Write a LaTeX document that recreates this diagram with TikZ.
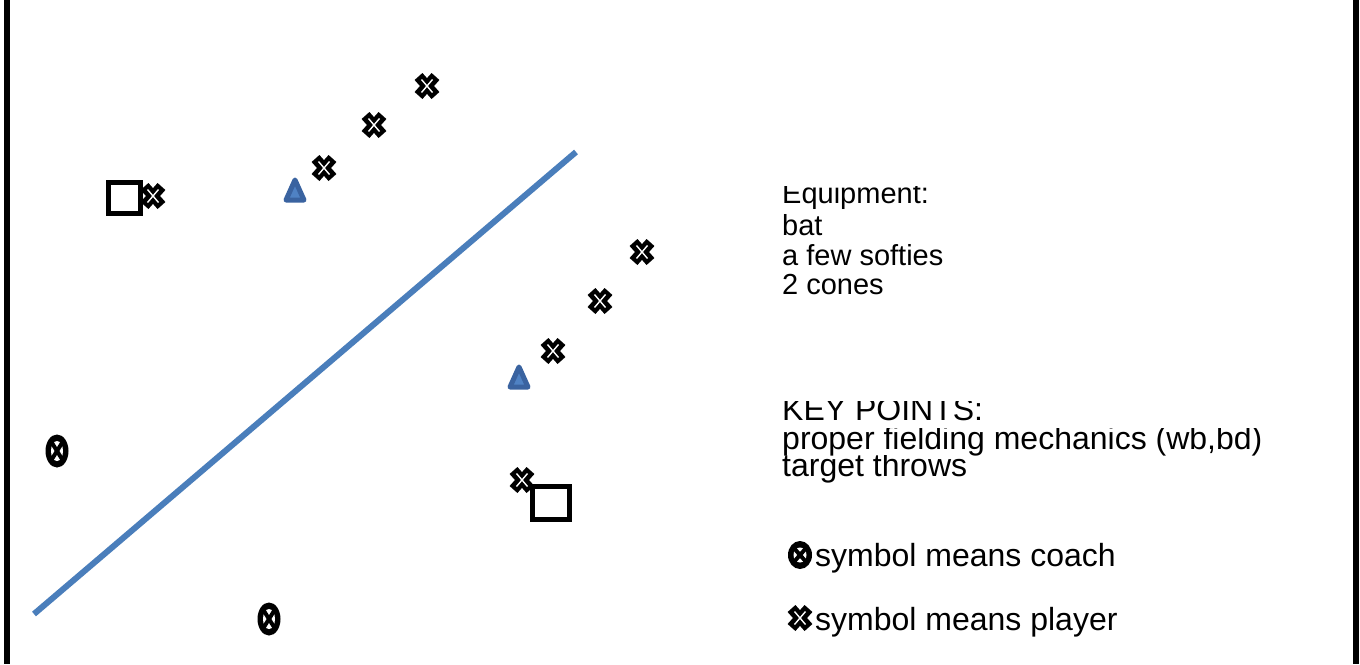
\documentclass[tikz,border=0pt]{standalone}
\usepackage{fontspec}
\setmainfont{Liberation Sans}
\definecolor{fieldblue}{HTML}{4A7EBB}
\definecolor{conedark}{HTML}{3A63A0}
\definecolor{conelight}{HTML}{4F82C4}
\tikzset{
  fieldline/.style={line width=6pt, draw=fieldblue},
  sideline/.style={line width=6pt, draw=black},
  basebox/.style={line width=5pt, draw=black, fill=white},
  eqtxt/.style={inner sep=0pt, anchor=base west, font=\fontsize{29}{30}\selectfont},
  keytxt/.style={inner sep=0pt, anchor=base west, font=\fontsize{32}{30}\selectfont},
  legtxt/.style={inner sep=0pt, anchor=base west, font=\fontsize{32}{34}\selectfont},
}
\newcommand\playerat[1]{%
  \begin{scope}[shift={#1}]
    \draw[line width=10.5pt, black] (-8.5,-9.5) -- (8.5,9.5) (-8.5,9.5) -- (8.5,-9.5);
    \draw[line width=1.4pt, white] (-5.5,-6.5) -- (5.5,6.5) (-5.5,6.5) -- (5.5,-6.5);
  \end{scope}}
\newcommand\coachat[3]{%
  \begin{scope}[shift={#1}]
    \fill[black] (0,0) ellipse [x radius=#2, y radius=#3];
    \fill[white] (0,0) ellipse [x radius=#2-5.5, y radius=#3-6.5];
    \draw[black, line width=4pt] (-#2+5,-#3+6) -- (#2-5,#3-6) (-#2+5,#3-6) -- (#2-5,-#3+6);
  \end{scope}}
\newcommand\coneat[1]{%
  \begin{scope}[shift={#1}]
    \filldraw[fill=conelight, draw=conedark, line width=5pt, line join=round]
      (0,-10) -- (9,10) -- (-9,10) -- cycle;
  \end{scope}}
\begin{document}
\begin{tikzpicture}[x=1pt, y=-1pt]
  \useasboundingbox[fill=white] (0,0) rectangle (1360,664);
  % side lines
  \coordinate (lt) at (7,0); \coordinate (lb) at (7,664);
  \coordinate (rt) at (1356,0); \coordinate (rb) at (1356,664);
  \draw[sideline] (lt) -- (lb);
  \draw[sideline] (rt) -- (rb);
  % field line
  \coordinate (fa) at (34,614); \coordinate (fb) at (576,152);
  \draw[fieldline] (fa) -- (fb);
  % bases
  \draw[basebox] (108,182) rectangle (140,213);
  \draw[basebox] (532,486) rectangle (569,519);
  % players
  \coordinate (p1) at (153,196);
  \coordinate (p2) at (324,168);
  \coordinate (p3) at (374,125);
  \coordinate (p4) at (427,86);
  \coordinate (p5) at (642,252);
  \coordinate (p6) at (600,301);
  \coordinate (p7) at (553,351);
  \coordinate (p8) at (522,480);
  \foreach \p in {p1,p2,p3,p4,p5,p6,p7,p8} {\playerat{(\p)}}
  % cones
  \coordinate (c1) at (295,190);
  \coordinate (c2) at (519,377);
  \coneat{(c1)} \coneat{(c2)}
  % coaches
  \coordinate (k1) at (57,451);
  \coordinate (k2) at (269,619);
  \coachat{(k1)}{11.5}{16.5}
  \coachat{(k2)}{11.5}{16.5}
  % equipment
  \begin{scope}
    \clip (770,186) rectangle (1000,215);
    \node[eqtxt] (eq) at (782,203) {Equipment:};
  \end{scope}
  \node[eqtxt] (bat) at (782,235) {bat};
  \node[eqtxt] (soft) at (782,265) {a few softies};
  \node[eqtxt] (cones) at (782,294) {2 cones};
  % key points
  \begin{scope}
    \clip (770,401) rectangle (1300,424);
    \node[keytxt] (kp) at (782,420) {KEY POINTS:};
  \end{scope}
  \begin{scope}
    \clip (770,428) rectangle (1300,455);
    \node[keytxt] (pf) at (782,449) {proper fielding mechanics (wb,bd)};
  \end{scope}
  \begin{scope}
    \clip (770,455) rectangle (1300,488);
    \node[keytxt] (tt) at (782,476) {target throws};
  \end{scope}
  % legend
  \coordinate (lk) at (800,555);
  \coachat{(lk)}{12}{14}
  \node[legtxt] (lc) at (815,566) {symbol means coach};
  \coordinate (lp) at (800,618);
  \playerat{(lp)}
  \node[legtxt] (lpl) at (815,630) {symbol means player};
\end{tikzpicture}
\end{document}
